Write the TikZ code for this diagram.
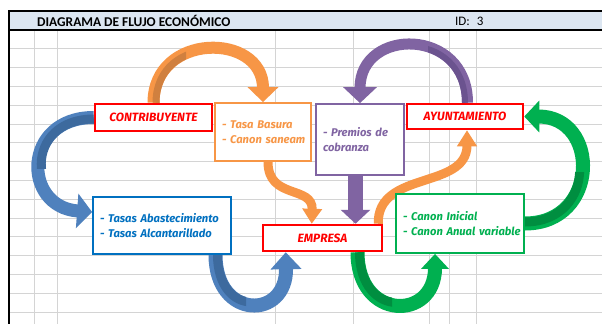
\documentclass[tikz,border=0pt]{standalone}
\usepackage{fontspec}
\setmainfont{Carlito}
\newfontfamily\boxfont{Fira Sans}
\usetikzlibrary{arrows.meta,calc}
\definecolor{cred}{HTML}{FF0000}
\definecolor{corange}{HTML}{F79646}
\definecolor{corangedk}{HTML}{D0803F}
\definecolor{cpurple}{HTML}{8064A2}
\definecolor{cpurpledk}{HTML}{6B538F}
\definecolor{cblue}{HTML}{0070C0}
\definecolor{carrowblue}{HTML}{4F81BD}
\definecolor{carrowbluedk}{HTML}{3D6A9E}
\definecolor{cgreen}{HTML}{00B050}
\definecolor{cgreendk}{HTML}{008E40}
\definecolor{cheader}{HTML}{DCE6F1}
\definecolor{cgrid}{HTML}{D4D4D4}
\pgfdeclarelayer{background}
\pgfdeclarelayer{arrowlayer}
\pgfsetlayers{background,arrowlayer,main}
\tikzset{
  gridline/.style={draw=cgrid, line width=0.8pt},
  redbox/.style={draw=cred, line width=2.5pt, fill=white, text=cred, inner sep=0pt,
    font=\boxfont\bfseries\itshape\fontsize{12}{14}\selectfont},
  infobox/.style={fill=white, line width=1.8pt, align=left, inner xsep=7pt, inner ysep=0pt,
    font=\boxfont\bfseries\itshape\fontsize{11.2}{14.5}\selectfont},
  ribbon/.style={line width=#1},
  bigtip/.style n args={2}{-{Triangle[width=#1,length=#2]}},
  thinline/.style={line width=9pt}
}
\begin{document}
\begin{tikzpicture}[x=1pt,y=-1pt]
\useasboundingbox (0,0) rectangle (602,324);
% header and grid
\begin{pgfonlayer}{background}
  \fill[white] (0,0) rectangle (602,324);
  \fill[cheader] (9,11) rectangle (602,30);
  \foreach \yy in {48.8,67.6,86.4,105.2,124,142.8,161.6,180.4,199.2,218,236.8,255.6,274.4,293.2,312}
    \draw[gridline] (9,\yy) -- (602,\yy);
  \foreach \xx in {34,57,275,353,429,449,476}
    \draw[gridline] (\xx,30) -- (\xx,324);
  \draw[black, line width=1.1pt] (602,11) -- (9,11) -- (9,324);
  \draw[black, line width=1.1pt] (9,30) -- (602,30);
\end{pgfonlayer}
\node[anchor=west, font=\bfseries\fontsize{13.4}{15}\selectfont, inner sep=0pt] (title) at (37,21) {DIAGRAMA DE FLUJO ECONÓMICO};
\node[anchor=west, font=\fontsize{13}{15}\selectfont, inner sep=0pt] (id) at (455,21) {ID:\hspace{7pt}3};
% boxes
\node[redbox, minimum width=117pt, minimum height=27pt] (contrib) at (153.5,117.5) {CONTRIBUYENTE};
\node[redbox, minimum width=116pt, minimum height=25pt] (ayunt) at (465,116.5) {AYUNTAMIENTO};
\node[redbox, minimum width=119pt, minimum height=26pt] (empresa) at (322.5,238) {EMPRESA};
\node[infobox, draw=corange, text=corange, text width=82pt, minimum height=58pt] (orangebox) at (263,132) {\mbox{- Tasa Basura}\\\mbox{- Canon saneam}};
\node[infobox, draw=cpurple, text=cpurple, text width=74pt, minimum height=71pt] (purplebox) at (360,139.5) {\mbox{- Premios de}\\\mbox{cobranza}};
\node[infobox, draw=cblue, text=cblue, text width=124pt, minimum height=57pt] (bluebox) at (162,225.5) {\mbox{- Tasas Abastecimiento}\\\mbox{- Tasas Alcantarillado}};
\node[infobox, draw=cgreen, text=cgreen, text width=114pt, minimum height=59pt] (greenbox) at (460,223.5) {\mbox{- Canon Inicial}\\\mbox{- Canon Anual variable}};
\coordinate (pv) at ($(purplebox.south)+(-4.5,0)$);
% arrows
\begin{pgfonlayer}{arrowlayer}
  % orange top arc
  \draw[corange, ribbon=12pt, bigtip={30pt}{15pt}] (contrib.north) .. controls (153.5,32) and (263,32) .. (orangebox.north);
  \begin{scope}
    \clip (135,40) rectangle (186,106);
    \draw[corangedk, line width=7pt] ([xshift=2.5pt]contrib.north) .. controls (156,33) and (265,33) .. ([xshift=2pt]orangebox.north);
  \end{scope}
  % purple top arc
  \draw[cpurple, ribbon=11pt, bigtip={33pt}{16pt}] ($(ayunt.north)+(2.5,0)$) .. controls (467.5,27) and (360,27) .. (purplebox.north);
  \begin{scope}
    \clip (428,35) rectangle (482,106);
    \draw[cpurpledk, line width=6pt] ($(ayunt.north)+(0,0)$) .. controls (465,28) and (358,28) .. ($(purplebox.north)+(-2,0)$);
  \end{scope}
  % blue left arc
  \draw[carrowblue, ribbon=13pt, bigtip={34pt}{15pt}] (contrib.west) .. controls (22,117.5) and (22,207) .. ($(bluebox.west)+(0,-13.5)$);
  \begin{scope}
    \clip (20,100) rectangle (100,168);
    \draw[carrowbluedk, line width=9pt] ($(contrib.west)+(0,1.5)$) .. controls (24,119) and (24,207) .. ($(bluebox.west)+(0,-12)$);
  \end{scope}
  % blue bottom arc
  \draw[carrowblue, ribbon=14pt, bigtip={30pt}{17pt}] ($(bluebox.south)+(53.5,0)$) .. controls (215.5,320) and (287,320) .. ($(empresa.south west)+(24,0)$);
  \begin{scope}
    \clip (200,252) rectangle (246,316);
    \draw[carrowbluedk, line width=9pt] ($(bluebox.south)+(55.5,0)$) .. controls (217.5,318) and (285,318) .. ($(empresa.south west)+(22,0)$);
  \end{scope}
  % orange S curves
  \draw[corange, thinline, bigtip={19pt}{15pt}] ($(orangebox.south)+(5,0)$) .. controls (268,200) and (313,185) .. ($(empresa.north west)+(50,0)$);
  \draw[corange, thinline, bigtip={19pt}{16pt}] ($(empresa.north east)+(-5,0)$) .. controls (377,170) and (467,190) .. ($(ayunt.south)+(2,0)$);
  % purple straight arrow
  \draw[cpurple, line width=15pt, bigtip={29pt}{14pt}] (pv) -- (pv |- empresa.north);
  % green bottom arc
  \draw[cgreen, ribbon=14pt, bigtip={27pt}{15pt}] ($(empresa.south)+(35,0)$) .. controls (357.5,321) and (435,321) .. ($(greenbox.south)+(-25,0)$);
  \begin{scope}
    \clip (340,249) rectangle (392,316);
    \draw[cgreendk, line width=9pt] ($(empresa.south)+(37,0)$) .. controls (359.5,319) and (433,319) .. ($(greenbox.south)+(-27,0)$);
  \end{scope}
  % green right arc
  \draw[cgreen, ribbon=14pt, bigtip={31pt}{15pt}] (greenbox.east) .. controls (600,223.5) and (600,116.5) .. (ayunt.east);
  \begin{scope}
    \clip (520,172) rectangle (600,240);
    \draw[cgreendk, line width=9pt] ($(greenbox.east)+(0,-1.5)$) .. controls (598,222) and (598,118) .. ($(ayunt.east)+(0,1.5)$);
  \end{scope}
\end{pgfonlayer}
\end{tikzpicture}
\end{document}
